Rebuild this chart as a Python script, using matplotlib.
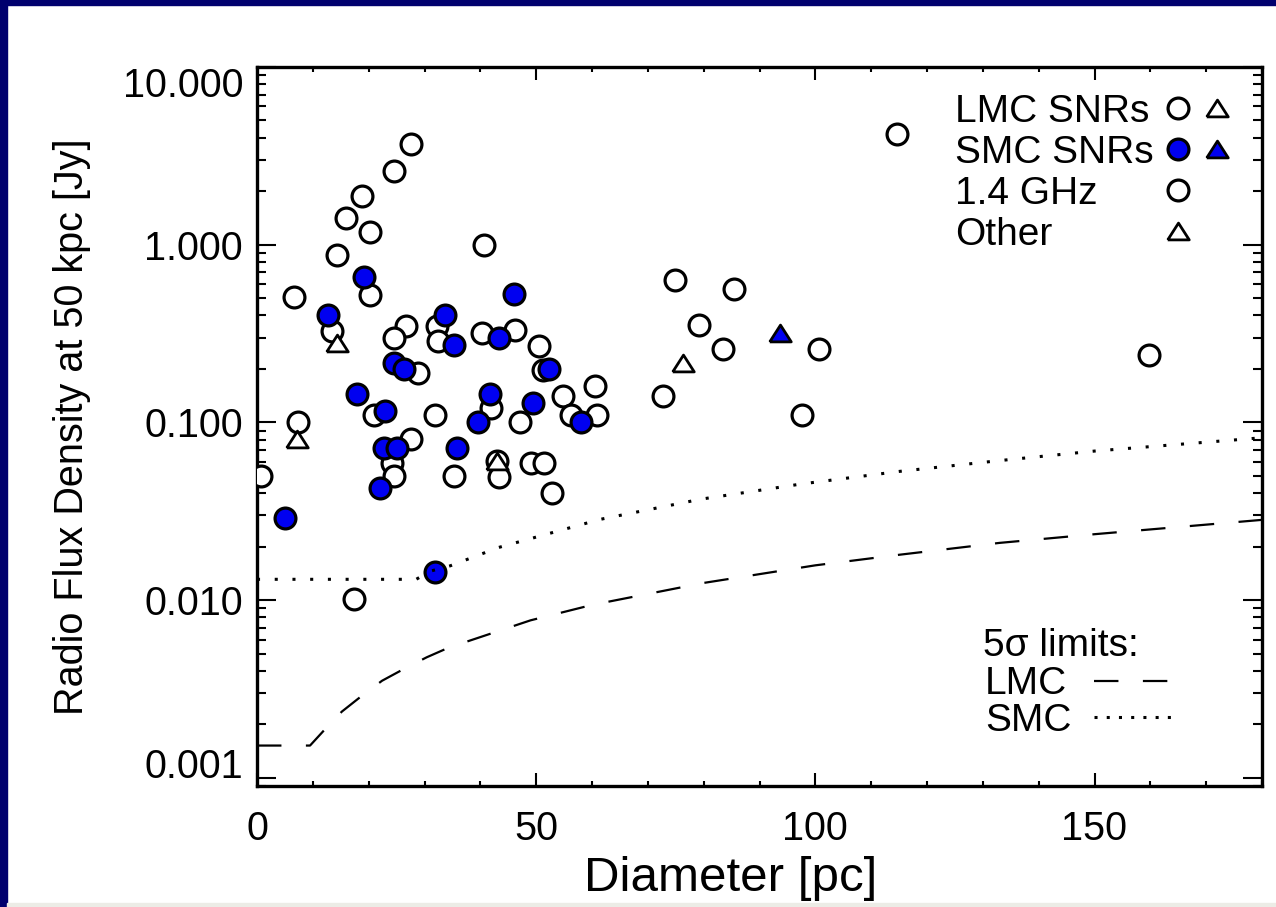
import matplotlib
matplotlib.use('Agg')
import matplotlib.pyplot as plt
from matplotlib.patches import Rectangle
from matplotlib.lines import Line2D
from matplotlib.ticker import FixedLocator, LogLocator, NullFormatter, FixedFormatter, MultipleLocator
import numpy as np

plt.rcParams['font.family'] = ['Liberation Sans', 'DejaVu Sans']

# ---------------- data ----------------
lmc_circ_D = [27.5, 24.6, 18.8, 15.9, 20.2, 40.6, 14.4, 20.2, 6.7, 13.4,
              26.6, 24.6, 32.2, 32.4, 40.3, 46.2, 50.5, 28.9, 51.2, 20.9,
              31.9, 41.9, 47.1, 54.8, 56.2, 60.6, 60.95, 7.4, 0.8, 27.5,
              24.2, 24.5, 35.3, 43.0, 43.3, 49.0, 51.4, 52.9, 17.3,
              114.7, 74.8, 85.5, 79.1, 83.4, 100.7, 72.7, 97.7, 159.7]
lmc_circ_S = [3.7, 2.6, 1.87, 1.42, 1.18, 1.0, 0.87, 0.52, 0.51, 0.326,
              0.348, 0.30, 0.348, 0.289, 0.319, 0.33, 0.27, 0.19, 0.198, 0.11,
              0.11, 0.121, 0.10, 0.14, 0.11, 0.16, 0.11, 0.10, 0.05, 0.081,
              0.059, 0.05, 0.05, 0.061, 0.049, 0.059, 0.059, 0.040, 0.0101,
              4.2, 0.636, 0.56, 0.355, 0.26, 0.26, 0.14, 0.11, 0.24]

lmc_tri_D = [14.4, 7.1, 43.0, 76.3]
lmc_tri_S = [0.28, 0.081, 0.061, 0.216]

smc_circ_D = [19.2, 46.0, 12.8, 33.7, 35.2, 43.3, 24.5, 26.3, 52.3, 17.9,
              23.0, 41.8, 39.6, 49.4, 58.1, 22.7, 25.1, 22.1, 35.9, 5.0, 31.9]
smc_circ_S = [0.66, 0.53, 0.40, 0.40, 0.274, 0.30, 0.216, 0.20, 0.20, 0.144,
              0.116, 0.144, 0.10, 0.129, 0.10, 0.072, 0.072, 0.043, 0.072, 0.029, 0.0144]

smc_tri_D = [93.6]
smc_tri_S = [0.32]

# 5-sigma limit curves
lmc_lim_D = [0, 9.5, 12.2, 15.2, 18.8, 22.4, 26.3, 30.4, 34.3, 49, 60, 80, 100, 115, 133, 150, 180]
lmc_lim_S = [0.00152, 0.00152, 0.00188, 0.00236, 0.0029, 0.00352, 0.0041, 0.00477, 0.0054,
             0.0077, 0.0094, 0.0125, 0.0157, 0.018, 0.021, 0.0235, 0.0283]
smc_lim_D = [0, 28.5, 31.2, 34.6, 43.3, 61.5, 79.5, 97.4, 115, 133, 150, 180]
smc_lim_S = [0.0131, 0.0131, 0.0146, 0.0156, 0.0198, 0.0285, 0.037, 0.045, 0.053, 0.061, 0.069, 0.082]

x_major = [0, 50, 100, 150]
y_major = [0.001, 0.01, 0.1, 1.0, 10.0]
y_labels = ['0.001', '0.010', '0.100', '1.000', '10.000']

# ---------------- figure ----------------
W, H = 1276, 907
fig = plt.figure(figsize=(W / 100, H / 100), dpi=100)
fig.patch.set_facecolor('white')

L, R, T, B = 257, 1262, 67, 786
ax = fig.add_axes([L / W, 1 - B / H, (R - L) / W, (B - T) / H])

navy = '#00006e'
fig.add_artist(Rectangle((0, 0), 7 / W, 1, transform=fig.transFigure, color=navy, zorder=10))
fig.add_artist(Rectangle((0, 1 - 5 / H), 1, 5 / H, transform=fig.transFigure, color=navy, zorder=10))
fig.add_artist(Rectangle((7 / W, 0), 1, 4 / H, transform=fig.transFigure, color='#ececE6', zorder=10))

def fp(x, y):
    return (x / W, 1 - y / H)

blue = '#0000f0'
tri = [(-1, -0.78), (1, -0.78), (0, 0.78), (-1, -0.78)]
CMS, CMEW = 15, 2.3
TMS, TMEW = 15.5, 2.0

ax.set_yscale('log')

ax.plot(lmc_circ_D, lmc_circ_S, ls='none', marker='o', ms=CMS, mfc='white', mec='black', mew=CMEW, zorder=3)
ax.plot(lmc_tri_D, lmc_tri_S, ls='none', marker=tri, ms=TMS, mfc='white', mec='black', mew=TMEW, zorder=4)
ax.plot(smc_circ_D, smc_circ_S, ls='none', marker='o', ms=CMS, mfc=blue, mec='black', mew=CMEW, zorder=5)
ax.plot(smc_tri_D, smc_tri_S, ls='none', marker=tri, ms=TMS, mfc=blue, mec='black', mew=TMEW, zorder=5)

ax.plot(lmc_lim_D, lmc_lim_S, color='black', lw=1.6, dashes=(11, 11), zorder=6)
ax.plot(smc_lim_D, smc_lim_S, color='black', lw=2.2, dashes=(1, 4.8), zorder=6)

ax.set_xlim(0, 180)
ax.set_ylim(0.0009, 10)

ax.xaxis.set_major_locator(FixedLocator(x_major))
ax.xaxis.set_minor_locator(MultipleLocator(10))
ax.yaxis.set_major_locator(FixedLocator(y_major))
ax.yaxis.set_major_formatter(FixedFormatter(y_labels))
ax.yaxis.set_minor_locator(LogLocator(base=10, subs=np.arange(2, 10)))
ax.yaxis.set_minor_formatter(NullFormatter())

ax.tick_params(which='both', direction='in', top=True, right=True, width=1.5, colors='black')
ax.tick_params(axis='x', which='major', length=9.4, pad=17, labelsize=28.5)
ax.tick_params(axis='x', which='minor', length=3.6)
ax.tick_params(axis='y', which='major', length=13.7, pad=10, labelsize=28.5)
ax.tick_params(axis='y', which='minor', length=6.5)
for s in ax.spines.values():
    s.set_linewidth(2.4)

ax.set_xlabel('Diameter [pc]', fontsize=35.5)
ax.xaxis.set_label_coords((731 - L) / (R - L), (B - 856) / (B - T))
ax.set_ylabel('Radio Flux Density at 50 kpc [Jy]', fontsize=28.5)
ax.yaxis.set_label_coords((91 - L) / (R - L), 0.5)

fig.canvas.draw()
yt = ax.yaxis.get_major_ticks()
yt[-1].label1.set_va('top')
yt[0].label1.set_va('baseline')

# ---------------- legend (upper right) ----------------
FS = 28
rows = [108, 149, 190, 231]
names = ['LMC SNRs', 'SMC SNRs', '1.4 GHz', 'Other']
for y, t in zip(rows, names):
    fig.text(*fp(955, y + 14), t, fontsize=FS, va='baseline', ha='left')

def mk(x, y, marker, fc, ms, mew):
    fig.add_artist(Line2D([x / W], [1 - y / H], transform=fig.transFigure, ls='none',
                          marker=marker, ms=ms, mfc=fc, mec='black', mew=mew))

mk(1178, rows[0], 'o', 'white', CMS, CMEW)
mk(1217, rows[0], tri, 'white', TMS, TMEW)
mk(1178, rows[1], 'o', blue, CMS, CMEW)
mk(1217, rows[1], tri, blue, TMS, TMEW)
mk(1178, rows[2], 'o', 'white', CMS, CMEW)
mk(1178, rows[3], tri, 'white', TMS, TMEW)

# ---------------- legend (lower right) ----------------
fig.text(*fp(983, 642 + 14), '5σ limits:', fontsize=FS, va='baseline', ha='left')
fig.text(*fp(985, 680 + 14), 'LMC', fontsize=FS, va='baseline', ha='left')
fig.text(*fp(985, 717 + 14), 'SMC', fontsize=FS, va='baseline', ha='left')
fig.add_artist(Line2D([1094 / W, 1170 / W], [1 - 681 / H, 1 - 681 / H], transform=fig.transFigure,
                      color='black', lw=1.6, dashes=(11, 11)))
fig.add_artist(Line2D([1094 / W, 1172 / W], [1 - 717 / H, 1 - 717 / H], transform=fig.transFigure,
                      color='black', lw=2.2, dashes=(1, 3.0)))

fig.savefig('out.png', dpi=100, facecolor='white')
